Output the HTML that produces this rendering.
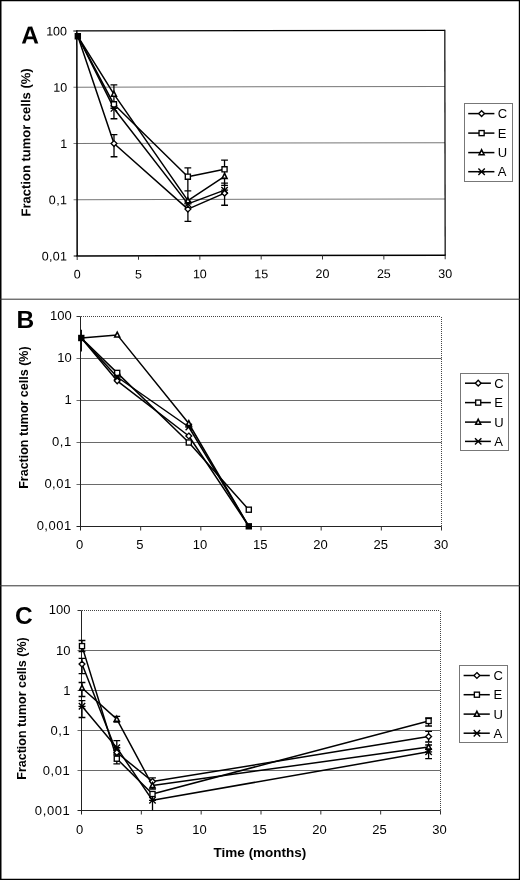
<!DOCTYPE html>
<html lang="en"><head><meta charset="utf-8"><title>Fraction tumor cells over time</title>
<style>html,body{margin:0;padding:0;background:#fff}svg{display:block;will-change:transform;transform:translateZ(0)}text{font-family:'Liberation Sans', Arial, Helvetica, sans-serif;fill:#000}</style>
</head><body>
<svg width="520" height="880" viewBox="0 0 520 880">
<rect x="0" y="0" width="520" height="880" fill="#fff"/>
<path d="M0 0H520V880H0Z M1.5 1.2V878.8H518.8V1.2Z" fill="#000" fill-rule="evenodd"/>
<line x1="0" y1="299.2" x2="520" y2="299.2" stroke="#333" stroke-width="1" />
<line x1="0" y1="585.8" x2="520" y2="585.8" stroke="#333" stroke-width="1" />
<g transform="rotate(-0.09 261 143)">
<line x1="73.5" y1="86.85" x2="445" y2="86.85" stroke="#777" stroke-width="1" />
<line x1="73.5" y1="143.1" x2="445" y2="143.1" stroke="#777" stroke-width="1" />
<line x1="73.5" y1="199.35" x2="445" y2="199.35" stroke="#777" stroke-width="1" />
<line x1="77" y1="30" x2="77" y2="256.3" stroke="#000" stroke-width="1.5" />
<line x1="76.3" y1="255.6" x2="445.6" y2="255.6" stroke="#000" stroke-width="1.5" />
<line x1="77" y1="30.6" x2="445" y2="30.6" stroke="#000" stroke-width="1.2" />
<line x1="445" y1="30" x2="445" y2="255.6" stroke="#000" stroke-width="1.2" />
<line x1="73.5" y1="30.6" x2="77" y2="30.6" stroke="#000" stroke-width="1" />
<line x1="73.5" y1="255.6" x2="77" y2="255.6" stroke="#000" stroke-width="1" />
<line x1="77" y1="255.6" x2="77" y2="259.6" stroke="#333" stroke-width="1" />
<line x1="138.33" y1="255.6" x2="138.33" y2="259.6" stroke="#333" stroke-width="1" />
<line x1="199.67" y1="255.6" x2="199.67" y2="259.6" stroke="#333" stroke-width="1" />
<line x1="261" y1="255.6" x2="261" y2="259.6" stroke="#333" stroke-width="1" />
<line x1="322.33" y1="255.6" x2="322.33" y2="259.6" stroke="#333" stroke-width="1" />
<line x1="383.67" y1="255.6" x2="383.67" y2="259.6" stroke="#333" stroke-width="1" />
<line x1="445" y1="255.6" x2="445" y2="259.6" stroke="#333" stroke-width="1" />
<text x="67.2" y="35.1" font-size="12.5" text-anchor="end" font-weight="normal" >100</text>
<text x="67.2" y="91.35" font-size="12.5" text-anchor="end" font-weight="normal" >10</text>
<text x="67.2" y="147.6" font-size="12.5" text-anchor="end" font-weight="normal" >1</text>
<text x="67.2" y="203.85" font-size="12.5" text-anchor="end" font-weight="normal"  letter-spacing="0.35">0,1</text>
<text x="67.2" y="260.1" font-size="12.5" text-anchor="end" font-weight="normal"  letter-spacing="0.35">0,01</text>
<text x="77" y="278.2" font-size="12.5" text-anchor="middle" font-weight="normal" >0</text>
<text x="138.33" y="278.2" font-size="12.5" text-anchor="middle" font-weight="normal" >5</text>
<text x="199.67" y="278.2" font-size="12.5" text-anchor="middle" font-weight="normal" >10</text>
<text x="261" y="278.2" font-size="12.5" text-anchor="middle" font-weight="normal" >15</text>
<text x="322.33" y="278.2" font-size="12.5" text-anchor="middle" font-weight="normal" >20</text>
<text x="383.67" y="278.2" font-size="12.5" text-anchor="middle" font-weight="normal" >25</text>
<text x="445" y="278.2" font-size="12.5" text-anchor="middle" font-weight="normal" >30</text>
<text x="21.5" y="43.2" font-size="24.5" text-anchor="start" font-weight="bold" >A</text>
<text transform="translate(30.3,216.1) rotate(-90)" font-size="13" font-weight="bold">Fraction tumor cells (%)</text>
<path d="M78 36L114 143.3L187.8 209L224.5 193.1" fill="none" stroke="#000" stroke-width="1.5" stroke-linejoin="round"/>
<path d="M78 36L114 104.1L187.8 176.6L224.5 169.2" fill="none" stroke="#000" stroke-width="1.5" stroke-linejoin="round"/>
<path d="M78 36L114 93.9L187.8 200.5L224.5 176.2" fill="none" stroke="#000" stroke-width="1.5" stroke-linejoin="round"/>
<path d="M78 36L114 108.2L187.8 203.8L224.5 190.1" fill="none" stroke="#000" stroke-width="1.5" stroke-linejoin="round"/>
<path d="M114 134.3L114 156.5M110.6 134.3L117.4 134.3M110.6 156.5L117.4 156.5" fill="none" stroke="#000" stroke-width="1.3"/>
<path d="M114 84.7L114 118.5M110.6 84.7L117.4 84.7M110.6 118.5L117.4 118.5" fill="none" stroke="#000" stroke-width="1.3"/>
<path d="M187.8 167.8L187.8 221.3M184.4 167.8L191.2 167.8M184.4 221.3L191.2 221.3" fill="none" stroke="#000" stroke-width="1.3"/>
<path d="M187.8 190.8L187.8 190.8M184.4 190.8L191.2 190.8M184.4 190.8L191.2 190.8" fill="none" stroke="#000" stroke-width="1.3"/>
<path d="M224.5 160.1L224.5 205.2M221.1 160.1L227.9 160.1M221.1 205.2L227.9 205.2" fill="none" stroke="#000" stroke-width="1.3"/>
<path d="M224.5 183L224.5 185.3M221.1 183L227.9 183M221.1 185.3L227.9 185.3" fill="none" stroke="#000" stroke-width="1.3"/>
<path d="M114 140.4L116.9 143.3L114 146.2L111.1 143.3Z" fill="#fff" stroke="#000" stroke-width="1.35"/>
<path d="M187.8 206.1L190.7 209L187.8 211.9L184.9 209Z" fill="#fff" stroke="#000" stroke-width="1.35"/>
<path d="M224.5 190.2L227.4 193.1L224.5 196L221.6 193.1Z" fill="#fff" stroke="#000" stroke-width="1.35"/>
<rect x="111.45" y="101.55" width="5.1" height="5.1" fill="#fff" stroke="#000" stroke-width="1.35"/>
<rect x="185.25" y="174.05" width="5.1" height="5.1" fill="#fff" stroke="#000" stroke-width="1.35"/>
<rect x="221.95" y="166.65" width="5.1" height="5.1" fill="#fff" stroke="#000" stroke-width="1.35"/>
<path d="M114 91.1L116.5 96L111.5 96Z" fill="#fff" stroke="#000" stroke-width="1.55"/>
<path d="M187.8 197.7L190.3 202.6L185.3 202.6Z" fill="#fff" stroke="#000" stroke-width="1.55"/>
<path d="M224.5 173.4L227 178.3L222 178.3Z" fill="#fff" stroke="#000" stroke-width="1.55"/>
<path d="M110.8 105L117.2 111.4M110.8 111.4L117.2 105M110.5 108.2L117.5 108.2" fill="none" stroke="#000" stroke-width="1.35"/>
<path d="M184.6 200.6L191 207M184.6 207L191 200.6M184.3 203.8L191.3 203.8" fill="none" stroke="#000" stroke-width="1.35"/>
<path d="M221.3 186.9L227.7 193.3M221.3 193.3L227.7 186.9M221 190.1L228 190.1" fill="none" stroke="#000" stroke-width="1.35"/>
<rect x="74.8" y="32.8" width="6.4" height="6.4" fill="#000"/>
</g>
<rect x="464.5" y="103.5" width="48" height="78" fill="#fff" stroke="#777" stroke-width="1"/>
<line x1="468.2" y1="113.6" x2="494.4" y2="113.6" stroke="#000" stroke-width="1.5" />
<path d="M481.6 110.7L484.5 113.6L481.6 116.5L478.7 113.6Z" fill="#fff" stroke="#000" stroke-width="1.35"/>
<text x="497.8" y="118.1" font-size="13" text-anchor="start" font-weight="normal" >C</text>
<line x1="468.2" y1="133.1" x2="494.4" y2="133.1" stroke="#000" stroke-width="1.5" />
<rect x="479.05" y="130.55" width="5.1" height="5.1" fill="#fff" stroke="#000" stroke-width="1.35"/>
<text x="497.8" y="137.6" font-size="13" text-anchor="start" font-weight="normal" >E</text>
<line x1="468.2" y1="152.6" x2="494.4" y2="152.6" stroke="#000" stroke-width="1.5" />
<path d="M481.6 149.8L484.1 154.7L479.1 154.7Z" fill="#fff" stroke="#000" stroke-width="1.55"/>
<text x="497.8" y="157.1" font-size="13" text-anchor="start" font-weight="normal" >U</text>
<line x1="468.2" y1="171.7" x2="494.4" y2="171.7" stroke="#000" stroke-width="1.5" />
<path d="M478.4 168.5L484.8 174.9M478.4 174.9L484.8 168.5M478.1 171.7L485.1 171.7" fill="none" stroke="#000" stroke-width="1.35"/>
<text x="497.8" y="176.2" font-size="13" text-anchor="start" font-weight="normal" >A</text>
<g>
<line x1="76.5" y1="358.5" x2="441.5" y2="358.5" stroke="#6a6a6a" stroke-width="1" />
<line x1="76.5" y1="400.5" x2="441.5" y2="400.5" stroke="#6a6a6a" stroke-width="1" />
<line x1="76.5" y1="442.5" x2="441.5" y2="442.5" stroke="#6a6a6a" stroke-width="1" />
<line x1="76.5" y1="484.5" x2="441.5" y2="484.5" stroke="#6a6a6a" stroke-width="1" />
<line x1="81" y1="316.5" x2="441" y2="316.5" stroke="#444" stroke-width="1" stroke-dasharray="1 1"/>
<line x1="441.5" y1="317" x2="441.5" y2="526" stroke="#444" stroke-width="1" stroke-dasharray="1 1"/>
<line x1="80.5" y1="316.5" x2="80.5" y2="530.5" stroke="#222" stroke-width="1" />
<line x1="76.5" y1="526.5" x2="441.5" y2="526.5" stroke="#222" stroke-width="1" />
<line x1="76.5" y1="316.5" x2="80.5" y2="316.5" stroke="#333" stroke-width="1" />
<line x1="140.67" y1="526.5" x2="140.67" y2="530.5" stroke="#333" stroke-width="1" />
<line x1="200.83" y1="526.5" x2="200.83" y2="530.5" stroke="#333" stroke-width="1" />
<line x1="261" y1="526.5" x2="261" y2="530.5" stroke="#333" stroke-width="1" />
<line x1="321.17" y1="526.5" x2="321.17" y2="530.5" stroke="#333" stroke-width="1" />
<line x1="381.33" y1="526.5" x2="381.33" y2="530.5" stroke="#333" stroke-width="1" />
<line x1="441.5" y1="526.5" x2="441.5" y2="530.5" stroke="#333" stroke-width="1" />
<text x="71.7" y="319.8" font-size="13" text-anchor="end" font-weight="normal" >100</text>
<text x="71.7" y="361.8" font-size="13" text-anchor="end" font-weight="normal" >10</text>
<text x="71.7" y="403.8" font-size="13" text-anchor="end" font-weight="normal" >1</text>
<text x="71.7" y="445.8" font-size="13" text-anchor="end" font-weight="normal"  letter-spacing="0.5">0,1</text>
<text x="71.7" y="487.8" font-size="13" text-anchor="end" font-weight="normal"  letter-spacing="0.5">0,01</text>
<text x="71.7" y="529.8" font-size="13" text-anchor="end" font-weight="normal"  letter-spacing="0.5">0,001</text>
<text x="79.6" y="549.2" font-size="13" text-anchor="middle" font-weight="normal" >0</text>
<text x="139.83" y="549.2" font-size="13" text-anchor="middle" font-weight="normal" >5</text>
<text x="200.07" y="549.2" font-size="13" text-anchor="middle" font-weight="normal" >10</text>
<text x="260.3" y="549.2" font-size="13" text-anchor="middle" font-weight="normal" >15</text>
<text x="320.53" y="549.2" font-size="13" text-anchor="middle" font-weight="normal" >20</text>
<text x="380.77" y="549.2" font-size="13" text-anchor="middle" font-weight="normal" >25</text>
<text x="441" y="549.2" font-size="13" text-anchor="middle" font-weight="normal" >30</text>
<text x="16.5" y="327.8" font-size="24.5" text-anchor="start" font-weight="bold" >B</text>
<text transform="translate(28.4,488.8) rotate(-90)" font-size="12.5" font-weight="bold">Fraction tumor cells (%)</text>
<path d="M81.3 338L117.2 380.8L188.8 436L248.8 526.3" fill="none" stroke="#000" stroke-width="1.5" stroke-linejoin="round"/>
<path d="M81.3 338L117.2 372.9L188.8 442.5L248.8 509.7" fill="none" stroke="#000" stroke-width="1.5" stroke-linejoin="round"/>
<path d="M81.3 338L117.2 334.9L188.8 423.5L248.8 526.3" fill="none" stroke="#000" stroke-width="1.5" stroke-linejoin="round"/>
<path d="M81.3 338L117.2 377L188.8 427L248.8 526.3" fill="none" stroke="#000" stroke-width="1.5" stroke-linejoin="round"/>
<path d="M81.3 329.8L81.3 351.6M81.3 329.8L81.3 329.8M81.3 351.6L81.3 351.6" fill="none" stroke="#000" stroke-width="1.3"/>
<path d="M117.2 377.9L120.1 380.8L117.2 383.7L114.3 380.8Z" fill="#fff" stroke="#000" stroke-width="1.35"/>
<path d="M188.8 433.1L191.7 436L188.8 438.9L185.9 436Z" fill="#fff" stroke="#000" stroke-width="1.35"/>
<rect x="114.65" y="370.35" width="5.1" height="5.1" fill="#fff" stroke="#000" stroke-width="1.35"/>
<rect x="186.25" y="439.95" width="5.1" height="5.1" fill="#fff" stroke="#000" stroke-width="1.35"/>
<path d="M117.2 332.1L119.7 337L114.7 337Z" fill="#fff" stroke="#000" stroke-width="1.55"/>
<path d="M188.8 420.7L191.3 425.6L186.3 425.6Z" fill="#fff" stroke="#000" stroke-width="1.55"/>
<path d="M114 373.8L120.4 380.2M114 380.2L120.4 373.8M113.7 377L120.7 377" fill="none" stroke="#000" stroke-width="1.35"/>
<path d="M185.6 423.8L192 430.2M185.6 430.2L192 423.8M185.3 427L192.3 427" fill="none" stroke="#000" stroke-width="1.35"/>
<rect x="246.25" y="507.15" width="5.1" height="5.1" fill="#fff" stroke="#000" stroke-width="1.35"/>
<rect x="78.1" y="334.8" width="6.4" height="6.4" fill="#000"/>
<rect x="245.6" y="523.1" width="6.4" height="6.4" fill="#000"/>
<rect x="460.5" y="373.5" width="48" height="77" fill="#fff" stroke="#777" stroke-width="1"/>
<line x1="465" y1="383.2" x2="490.9" y2="383.2" stroke="#000" stroke-width="1.5" />
<path d="M478.2 380.3L481.1 383.2L478.2 386.1L475.3 383.2Z" fill="#fff" stroke="#000" stroke-width="1.35"/>
<text x="494.3" y="387.7" font-size="13" text-anchor="start" font-weight="normal" >C</text>
<line x1="465" y1="402.6" x2="490.9" y2="402.6" stroke="#000" stroke-width="1.5" />
<rect x="475.65" y="400.05" width="5.1" height="5.1" fill="#fff" stroke="#000" stroke-width="1.35"/>
<text x="494.3" y="407.1" font-size="13" text-anchor="start" font-weight="normal" >E</text>
<line x1="465" y1="422.1" x2="490.9" y2="422.1" stroke="#000" stroke-width="1.5" />
<path d="M478.2 419.3L480.7 424.2L475.7 424.2Z" fill="#fff" stroke="#000" stroke-width="1.55"/>
<text x="494.3" y="426.6" font-size="13" text-anchor="start" font-weight="normal" >U</text>
<line x1="465" y1="441.4" x2="490.9" y2="441.4" stroke="#000" stroke-width="1.5" />
<path d="M475 438.2L481.4 444.6M475 444.6L481.4 438.2M474.7 441.4L481.7 441.4" fill="none" stroke="#000" stroke-width="1.35"/>
<text x="494.3" y="445.9" font-size="13" text-anchor="start" font-weight="normal" >A</text>
</g>
<g>
<line x1="77.5" y1="650.5" x2="440.5" y2="650.5" stroke="#6a6a6a" stroke-width="1" />
<line x1="77.5" y1="690.5" x2="440.5" y2="690.5" stroke="#6a6a6a" stroke-width="1" />
<line x1="77.5" y1="730.5" x2="440.5" y2="730.5" stroke="#6a6a6a" stroke-width="1" />
<line x1="77.5" y1="770.5" x2="440.5" y2="770.5" stroke="#6a6a6a" stroke-width="1" />
<line x1="82" y1="610.5" x2="440" y2="610.5" stroke="#444" stroke-width="1" stroke-dasharray="1 1"/>
<line x1="440.5" y1="611" x2="440.5" y2="810" stroke="#444" stroke-width="1" stroke-dasharray="1 1"/>
<line x1="81.5" y1="610.5" x2="81.5" y2="814.5" stroke="#222" stroke-width="1" />
<line x1="77.5" y1="810.5" x2="440.5" y2="810.5" stroke="#222" stroke-width="1" />
<line x1="77.5" y1="610.5" x2="81.5" y2="610.5" stroke="#333" stroke-width="1" />
<line x1="141.33" y1="810.5" x2="141.33" y2="814.5" stroke="#333" stroke-width="1" />
<line x1="201.17" y1="810.5" x2="201.17" y2="814.5" stroke="#333" stroke-width="1" />
<line x1="261" y1="810.5" x2="261" y2="814.5" stroke="#333" stroke-width="1" />
<line x1="320.83" y1="810.5" x2="320.83" y2="814.5" stroke="#333" stroke-width="1" />
<line x1="380.67" y1="810.5" x2="380.67" y2="814.5" stroke="#333" stroke-width="1" />
<line x1="440.5" y1="810.5" x2="440.5" y2="814.5" stroke="#333" stroke-width="1" />
<text x="70.4" y="614.3" font-size="13" text-anchor="end" font-weight="normal" >100</text>
<text x="70.4" y="654.5" font-size="13" text-anchor="end" font-weight="normal" >10</text>
<text x="70.4" y="694.7" font-size="13" text-anchor="end" font-weight="normal" >1</text>
<text x="70.4" y="734.9" font-size="13" text-anchor="end" font-weight="normal"  letter-spacing="0.6">0,1</text>
<text x="70.4" y="775.1" font-size="13" text-anchor="end" font-weight="normal"  letter-spacing="0.6">0,01</text>
<text x="70.4" y="815.3" font-size="13" text-anchor="end" font-weight="normal"  letter-spacing="0.6">0,001</text>
<text x="79.5" y="833.6" font-size="13" text-anchor="middle" font-weight="normal" >0</text>
<text x="139.52" y="833.6" font-size="13" text-anchor="middle" font-weight="normal" >5</text>
<text x="199.53" y="833.6" font-size="13" text-anchor="middle" font-weight="normal" >10</text>
<text x="259.55" y="833.6" font-size="13" text-anchor="middle" font-weight="normal" >15</text>
<text x="319.57" y="833.6" font-size="13" text-anchor="middle" font-weight="normal" >20</text>
<text x="379.58" y="833.6" font-size="13" text-anchor="middle" font-weight="normal" >25</text>
<text x="439.6" y="833.6" font-size="13" text-anchor="middle" font-weight="normal" >30</text>
<text x="14.9" y="623.6" font-size="24.5" text-anchor="start" font-weight="bold" >C</text>
<text transform="translate(25.6,779.7) rotate(-90)" font-size="12.5" font-weight="bold">Fraction tumor cells (%)</text>
<text x="260" y="857" font-size="13.5" text-anchor="middle" font-weight="bold" >Time (months)</text>
<path d="M82 664.1L116.8 752.5L152.5 781.5L428.6 736.6" fill="none" stroke="#000" stroke-width="1.5" stroke-linejoin="round"/>
<path d="M82 646.1L116.8 758.7L152.5 794L428.6 721" fill="none" stroke="#000" stroke-width="1.5" stroke-linejoin="round"/>
<path d="M82 688L116.8 719.1L152.5 785.5L428.6 747" fill="none" stroke="#000" stroke-width="1.5" stroke-linejoin="round"/>
<path d="M82 706.3L116.8 747.7L152.5 800.3L428.6 751.8" fill="none" stroke="#000" stroke-width="1.5" stroke-linejoin="round"/>
<path d="M82 640.5L82 651.5M78.6 640.5L85.4 640.5M78.6 651.5L85.4 651.5" fill="none" stroke="#000" stroke-width="1.3"/>
<path d="M82 658.4L82 673.7M78.6 658.4L85.4 658.4M78.6 673.7L85.4 673.7" fill="none" stroke="#000" stroke-width="1.3"/>
<path d="M82 682.5L82 696.5M78.6 682.5L85.4 682.5M78.6 696.5L85.4 696.5" fill="none" stroke="#000" stroke-width="1.3"/>
<path d="M82 700.7L82 717.5M78.6 700.7L85.4 700.7M78.6 717.5L85.4 717.5" fill="none" stroke="#000" stroke-width="1.3"/>
<path d="M116.8 716.3L116.8 722M113.4 716.3L120.2 716.3M113.4 722L120.2 722" fill="none" stroke="#000" stroke-width="1.3"/>
<path d="M116.8 740.7L116.8 755M113.4 740.7L120.2 740.7M113.4 755L120.2 755" fill="none" stroke="#000" stroke-width="1.3"/>
<path d="M116.8 753.8L116.8 763.8M113.4 753.8L120.2 753.8M113.4 763.8L120.2 763.8" fill="none" stroke="#000" stroke-width="1.3"/>
<path d="M152.5 777.9L152.5 789M149.1 777.9L155.9 777.9M149.1 789L155.9 789" fill="none" stroke="#000" stroke-width="1.3"/>
<path d="M152.5 791L152.5 810.4M152.5 791L152.5 791M152.5 810.4L152.5 810.4" fill="none" stroke="#000" stroke-width="1.3"/>
<path d="M428.6 731.4L428.6 742M425.2 731.4L432 731.4M425.2 742L432 742" fill="none" stroke="#000" stroke-width="1.3"/>
<path d="M428.6 745L428.6 758.7M425.2 745L432 745M425.2 758.7L432 758.7" fill="none" stroke="#000" stroke-width="1.3"/>
<path d="M428.6 718L428.6 726M425.2 718L432 718M425.2 726L432 726" fill="none" stroke="#000" stroke-width="1.3"/>
<path d="M82 661.2L84.9 664.1L82 667L79.1 664.1Z" fill="#fff" stroke="#000" stroke-width="1.35"/>
<path d="M116.8 749.6L119.7 752.5L116.8 755.4L113.9 752.5Z" fill="#fff" stroke="#000" stroke-width="1.35"/>
<path d="M152.5 778.6L155.4 781.5L152.5 784.4L149.6 781.5Z" fill="#fff" stroke="#000" stroke-width="1.35"/>
<path d="M428.6 733.7L431.5 736.6L428.6 739.5L425.7 736.6Z" fill="#fff" stroke="#000" stroke-width="1.35"/>
<rect x="79.45" y="643.55" width="5.1" height="5.1" fill="#fff" stroke="#000" stroke-width="1.35"/>
<rect x="114.25" y="756.15" width="5.1" height="5.1" fill="#fff" stroke="#000" stroke-width="1.35"/>
<rect x="149.95" y="791.45" width="5.1" height="5.1" fill="#fff" stroke="#000" stroke-width="1.35"/>
<rect x="426.05" y="718.45" width="5.1" height="5.1" fill="#fff" stroke="#000" stroke-width="1.35"/>
<path d="M82 685.2L84.5 690.1L79.5 690.1Z" fill="#fff" stroke="#000" stroke-width="1.55"/>
<path d="M116.8 716.3L119.3 721.2L114.3 721.2Z" fill="#fff" stroke="#000" stroke-width="1.55"/>
<path d="M152.5 782.7L155 787.6L150 787.6Z" fill="#fff" stroke="#000" stroke-width="1.55"/>
<path d="M428.6 744.2L431.1 749.1L426.1 749.1Z" fill="#fff" stroke="#000" stroke-width="1.55"/>
<path d="M78.8 703.1L85.2 709.5M78.8 709.5L85.2 703.1M78.5 706.3L85.5 706.3" fill="none" stroke="#000" stroke-width="1.35"/>
<path d="M113.6 744.5L120 750.9M113.6 750.9L120 744.5M113.3 747.7L120.3 747.7" fill="none" stroke="#000" stroke-width="1.35"/>
<path d="M149.3 797.1L155.7 803.5M149.3 803.5L155.7 797.1M149 800.3L156 800.3" fill="none" stroke="#000" stroke-width="1.35"/>
<path d="M425.4 748.6L431.8 755M425.4 755L431.8 748.6M425.1 751.8L432.1 751.8" fill="none" stroke="#000" stroke-width="1.35"/>
<rect x="459.5" y="665.5" width="48" height="77" fill="#fff" stroke="#777" stroke-width="1"/>
<line x1="463.6" y1="675.5" x2="489.8" y2="675.5" stroke="#000" stroke-width="1.5" />
<path d="M476.9 672.6L479.8 675.5L476.9 678.4L474 675.5Z" fill="#fff" stroke="#000" stroke-width="1.35"/>
<text x="493.4" y="680" font-size="13" text-anchor="start" font-weight="normal" >C</text>
<line x1="463.6" y1="694.7" x2="489.8" y2="694.7" stroke="#000" stroke-width="1.5" />
<rect x="474.35" y="692.15" width="5.1" height="5.1" fill="#fff" stroke="#000" stroke-width="1.35"/>
<text x="493.4" y="699.2" font-size="13" text-anchor="start" font-weight="normal" >E</text>
<line x1="463.6" y1="714.1" x2="489.8" y2="714.1" stroke="#000" stroke-width="1.5" />
<path d="M476.9 711.3L479.4 716.2L474.4 716.2Z" fill="#fff" stroke="#000" stroke-width="1.55"/>
<text x="493.4" y="718.6" font-size="13" text-anchor="start" font-weight="normal" >U</text>
<line x1="463.6" y1="733.2" x2="489.8" y2="733.2" stroke="#000" stroke-width="1.5" />
<path d="M473.7 730L480.1 736.4M473.7 736.4L480.1 730M473.4 733.2L480.4 733.2" fill="none" stroke="#000" stroke-width="1.35"/>
<text x="493.4" y="737.7" font-size="13" text-anchor="start" font-weight="normal" >A</text>
</g>
</svg></body></html>
